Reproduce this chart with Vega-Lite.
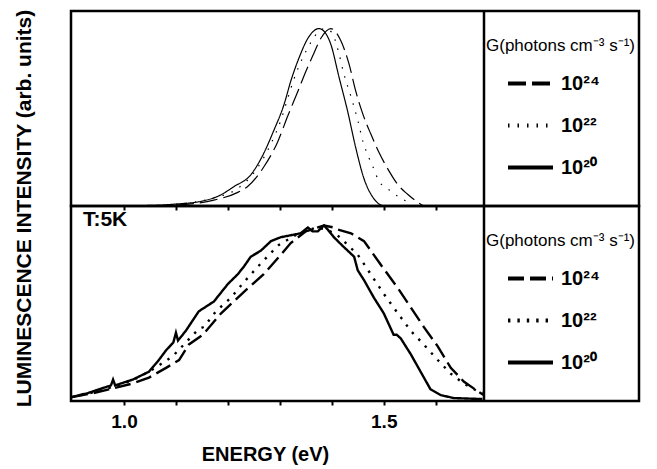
{
  "$schema": "https://vega.github.io/schema/vega-lite/v6.json",
  "padding": {"left": 11, "top": 7, "right": 0, "bottom": 0},
  "background": "white",
  "config": {
    "font": "Liberation Sans",
    "view": {"stroke": "black", "strokeWidth": 2.5},
    "axis": {"grid": false, "domain": false, "tickColor": "black", "labelColor": "black", "titleColor": "black"},
    "legend": {
      "orient": "none", "legendX": 415, "legendY": 27, "padding": 0, "strokeColor": null,
      "titleFontSize": 17, "titleFontWeight": "normal", "titleColor": "black", "titlePadding": 4, "titleLimit": 300,
      "labelFontSize": 20, "labelFontWeight": "bold", "labelColor": "black", "labelOffset": 6,
      "symbolType": "stroke", "symbolSize": 2025, "symbolStrokeWidth": 4, "symbolStrokeColor": "black",
      "symbolOffset": 20, "rowPadding": 7
    }
  },
  "datasets": {
    "edge": [{"E": 1.693}],
    "top": [
      {"G": "10²⁰", "E": 0.95, "I": 0.0}, {"G": "10²⁰", "E": 1.05, "I": 0.003}, {"G": "10²⁰", "E": 1.10, "I": 0.01},
      {"G": "10²⁰", "E": 1.15, "I": 0.025}, {"G": "10²⁰", "E": 1.181, "I": 0.05}, {"G": "10²⁰", "E": 1.212, "I": 0.10},
      {"G": "10²⁰", "E": 1.244, "I": 0.16}, {"G": "10²⁰", "E": 1.269, "I": 0.27}, {"G": "10²⁰", "E": 1.288, "I": 0.385},
      {"G": "10²⁰", "E": 1.308, "I": 0.52}, {"G": "10²⁰", "E": 1.321, "I": 0.64}, {"G": "10²⁰", "E": 1.337, "I": 0.76},
      {"G": "10²⁰", "E": 1.354, "I": 0.86}, {"G": "10²⁰", "E": 1.365, "I": 0.897}, {"G": "10²⁰", "E": 1.375, "I": 0.91},
      {"G": "10²⁰", "E": 1.387, "I": 0.89}, {"G": "10²⁰", "E": 1.398, "I": 0.83}, {"G": "10²⁰", "E": 1.414, "I": 0.66},
      {"G": "10²⁰", "E": 1.431, "I": 0.48}, {"G": "10²⁰", "E": 1.446, "I": 0.30}, {"G": "10²⁰", "E": 1.462, "I": 0.14},
      {"G": "10²⁰", "E": 1.479, "I": 0.045}, {"G": "10²⁰", "E": 1.49, "I": 0.012}, {"G": "10²⁰", "E": 1.50, "I": 0.0},
      {"G": "10²²", "E": 1.10, "I": 0.008}, {"G": "10²²", "E": 1.17, "I": 0.04}, {"G": "10²²", "E": 1.219, "I": 0.09},
      {"G": "10²²", "E": 1.25, "I": 0.17}, {"G": "10²²", "E": 1.283, "I": 0.32}, {"G": "10²²", "E": 1.302, "I": 0.44},
      {"G": "10²²", "E": 1.315, "I": 0.55}, {"G": "10²²", "E": 1.327, "I": 0.65}, {"G": "10²²", "E": 1.344, "I": 0.76},
      {"G": "10²²", "E": 1.36, "I": 0.84}, {"G": "10²²", "E": 1.373, "I": 0.89}, {"G": "10²²", "E": 1.386, "I": 0.91},
      {"G": "10²²", "E": 1.40, "I": 0.89}, {"G": "10²²", "E": 1.413, "I": 0.79}, {"G": "10²²", "E": 1.423, "I": 0.68},
      {"G": "10²²", "E": 1.437, "I": 0.56}, {"G": "10²²", "E": 1.45, "I": 0.44}, {"G": "10²²", "E": 1.46, "I": 0.33},
      {"G": "10²²", "E": 1.471, "I": 0.25}, {"G": "10²²", "E": 1.481, "I": 0.19}, {"G": "10²²", "E": 1.49, "I": 0.13},
      {"G": "10²²", "E": 1.507, "I": 0.09}, {"G": "10²²", "E": 1.527, "I": 0.05}, {"G": "10²²", "E": 1.546, "I": 0.02},
      {"G": "10²²", "E": 1.556, "I": 0.0},
      {"G": "10²⁴", "E": 1.10, "I": 0.005}, {"G": "10²⁴", "E": 1.173, "I": 0.03}, {"G": "10²⁴", "E": 1.219, "I": 0.07},
      {"G": "10²⁴", "E": 1.238, "I": 0.10}, {"G": "10²⁴", "E": 1.269, "I": 0.20}, {"G": "10²⁴", "E": 1.296, "I": 0.33},
      {"G": "10²⁴", "E": 1.315, "I": 0.46}, {"G": "10²⁴", "E": 1.335, "I": 0.59}, {"G": "10²⁴", "E": 1.35, "I": 0.69},
      {"G": "10²⁴", "E": 1.365, "I": 0.78}, {"G": "10²⁴", "E": 1.379, "I": 0.86}, {"G": "10²⁴", "E": 1.398, "I": 0.91},
      {"G": "10²⁴", "E": 1.417, "I": 0.85}, {"G": "10²⁴", "E": 1.433, "I": 0.73}, {"G": "10²⁴", "E": 1.446, "I": 0.59},
      {"G": "10²⁴", "E": 1.46, "I": 0.47}, {"G": "10²⁴", "E": 1.475, "I": 0.37}, {"G": "10²⁴", "E": 1.49, "I": 0.28},
      {"G": "10²⁴", "E": 1.51, "I": 0.18}, {"G": "10²⁴", "E": 1.527, "I": 0.11}, {"G": "10²⁴", "E": 1.546, "I": 0.06},
      {"G": "10²⁴", "E": 1.565, "I": 0.02}, {"G": "10²⁴", "E": 1.577, "I": 0.0}
    ],
    "bottom": [
      {"G": "10²⁰", "E": 0.899, "I": 0.02}, {"G": "10²⁰", "E": 0.93, "I": 0.04}, {"G": "10²⁰", "E": 0.952, "I": 0.06},
      {"G": "10²⁰", "E": 0.975, "I": 0.08}, {"G": "10²⁰", "E": 0.979, "I": 0.11}, {"G": "10²⁰", "E": 0.983, "I": 0.08},
      {"G": "10²⁰", "E": 1.017, "I": 0.11}, {"G": "10²⁰", "E": 1.048, "I": 0.15}, {"G": "10²⁰", "E": 1.067, "I": 0.21},
      {"G": "10²⁰", "E": 1.081, "I": 0.26}, {"G": "10²⁰", "E": 1.095, "I": 0.30}, {"G": "10²⁰", "E": 1.10, "I": 0.35},
      {"G": "10²⁰", "E": 1.104, "I": 0.31}, {"G": "10²⁰", "E": 1.119, "I": 0.36}, {"G": "10²⁰", "E": 1.144, "I": 0.46},
      {"G": "10²⁰", "E": 1.173, "I": 0.51}, {"G": "10²⁰", "E": 1.20, "I": 0.60}, {"G": "10²⁰", "E": 1.219, "I": 0.65},
      {"G": "10²⁰", "E": 1.231, "I": 0.69}, {"G": "10²⁰", "E": 1.244, "I": 0.74}, {"G": "10²⁰", "E": 1.263, "I": 0.77},
      {"G": "10²⁰", "E": 1.283, "I": 0.82}, {"G": "10²⁰", "E": 1.302, "I": 0.84}, {"G": "10²⁰", "E": 1.321, "I": 0.85},
      {"G": "10²⁰", "E": 1.34, "I": 0.86}, {"G": "10²⁰", "E": 1.354, "I": 0.89}, {"G": "10²⁰", "E": 1.363, "I": 0.87},
      {"G": "10²⁰", "E": 1.373, "I": 0.87}, {"G": "10²⁰", "E": 1.385, "I": 0.90}, {"G": "10²⁰", "E": 1.392, "I": 0.88},
      {"G": "10²⁰", "E": 1.404, "I": 0.84}, {"G": "10²⁰", "E": 1.423, "I": 0.79}, {"G": "10²⁰", "E": 1.443, "I": 0.74},
      {"G": "10²⁰", "E": 1.45, "I": 0.67}, {"G": "10²⁰", "E": 1.462, "I": 0.62}, {"G": "10²⁰", "E": 1.481, "I": 0.53},
      {"G": "10²⁰", "E": 1.50, "I": 0.45}, {"G": "10²⁰", "E": 1.519, "I": 0.34}, {"G": "10²⁰", "E": 1.525, "I": 0.34},
      {"G": "10²⁰", "E": 1.533, "I": 0.32}, {"G": "10²⁰", "E": 1.552, "I": 0.24}, {"G": "10²⁰", "E": 1.571, "I": 0.15},
      {"G": "10²⁰", "E": 1.59, "I": 0.06}, {"G": "10²⁰", "E": 1.61, "I": 0.03}, {"G": "10²⁰", "E": 1.635, "I": 0.015},
      {"G": "10²⁰", "E": 1.69, "I": 0.01},
      {"G": "10²²", "E": 0.90, "I": 0.02}, {"G": "10²²", "E": 0.95, "I": 0.05}, {"G": "10²²", "E": 1.0, "I": 0.09},
      {"G": "10²²", "E": 1.027, "I": 0.12}, {"G": "10²²", "E": 1.06, "I": 0.17}, {"G": "10²²", "E": 1.094, "I": 0.23},
      {"G": "10²²", "E": 1.119, "I": 0.30}, {"G": "10²²", "E": 1.144, "I": 0.37}, {"G": "10²²", "E": 1.154, "I": 0.38},
      {"G": "10²²", "E": 1.177, "I": 0.46}, {"G": "10²²", "E": 1.206, "I": 0.53}, {"G": "10²²", "E": 1.231, "I": 0.61},
      {"G": "10²²", "E": 1.258, "I": 0.69}, {"G": "10²²", "E": 1.283, "I": 0.76}, {"G": "10²²", "E": 1.298, "I": 0.80},
      {"G": "10²²", "E": 1.33, "I": 0.85}, {"G": "10²²", "E": 1.37, "I": 0.89}, {"G": "10²²", "E": 1.39, "I": 0.88},
      {"G": "10²²", "E": 1.411, "I": 0.85}, {"G": "10²²", "E": 1.423, "I": 0.82}, {"G": "10²²", "E": 1.45, "I": 0.75},
      {"G": "10²²", "E": 1.475, "I": 0.65}, {"G": "10²²", "E": 1.50, "I": 0.55}, {"G": "10²²", "E": 1.527, "I": 0.45},
      {"G": "10²²", "E": 1.552, "I": 0.36}, {"G": "10²²", "E": 1.577, "I": 0.29}, {"G": "10²²", "E": 1.604, "I": 0.21},
      {"G": "10²²", "E": 1.629, "I": 0.14}, {"G": "10²²", "E": 1.654, "I": 0.09}, {"G": "10²²", "E": 1.681, "I": 0.05},
      {"G": "10²²", "E": 1.693, "I": 0.04},
      {"G": "10²⁴", "E": 0.90, "I": 0.02}, {"G": "10²⁴", "E": 0.94, "I": 0.04}, {"G": "10²⁴", "E": 0.971, "I": 0.06},
      {"G": "10²⁴", "E": 1.017, "I": 0.09}, {"G": "10²⁴", "E": 1.048, "I": 0.12}, {"G": "10²⁴", "E": 1.081, "I": 0.17},
      {"G": "10²⁴", "E": 1.106, "I": 0.21}, {"G": "10²⁴", "E": 1.125, "I": 0.29}, {"G": "10²⁴", "E": 1.152, "I": 0.34},
      {"G": "10²⁴", "E": 1.187, "I": 0.45}, {"G": "10²⁴", "E": 1.231, "I": 0.56}, {"G": "10²⁴", "E": 1.269, "I": 0.65},
      {"G": "10²⁴", "E": 1.302, "I": 0.75}, {"G": "10²⁴", "E": 1.321, "I": 0.81}, {"G": "10²⁴", "E": 1.35, "I": 0.87},
      {"G": "10²⁴", "E": 1.385, "I": 0.90}, {"G": "10²⁴", "E": 1.404, "I": 0.89}, {"G": "10²⁴", "E": 1.411, "I": 0.88},
      {"G": "10²⁴", "E": 1.437, "I": 0.86}, {"G": "10²⁴", "E": 1.462, "I": 0.82}, {"G": "10²⁴", "E": 1.494, "I": 0.70},
      {"G": "10²⁴", "E": 1.527, "I": 0.58}, {"G": "10²⁴", "E": 1.552, "I": 0.48}, {"G": "10²⁴", "E": 1.577, "I": 0.38},
      {"G": "10²⁴", "E": 1.604, "I": 0.28}, {"G": "10²⁴", "E": 1.629, "I": 0.17}, {"G": "10²⁴", "E": 1.654, "I": 0.10},
      {"G": "10²⁴", "E": 1.681, "I": 0.05}, {"G": "10²⁴", "E": 1.693, "I": 0.03}
    ]
  },
  "spacing": 0,
  "bounds": "flush",
  "resolve": {
    "scale": {"x": "independent", "y": "independent", "strokeDash": "independent"},
    "legend": {"strokeDash": "independent"}
  },
  "vconcat": [
    {
      "width": 568, "height": 195,
      "layer": [
        {
          "data": {"name": "top"},
          "mark": {"type": "line", "color": "black", "strokeWidth": 1.2, "interpolate": "monotone", "clip": true},
          "encoding": {
            "x": {"field": "E", "type": "quantitative",
              "scale": {"domain": [0.898, 1.693], "range": [0, 413], "nice": false, "zero": false},
              "axis": {"values": [1, 1.1, 1.2, 1.3, 1.4, 1.5, 1.6], "labels": false, "title": null, "tickSize": 4, "tickWidth": 2}},
            "y": {"field": "I", "type": "quantitative",
              "scale": {"domain": [0, 1], "nice": false, "zero": true},
              "axis": {"ticks": false, "labels": false, "title": "LUMINESCENCE INTENSITY (arb. units)",
                "titleFontSize": 21, "titleFontWeight": "bold", "titlePadding": 37, "titleY": 197}},
            "strokeDash": {"field": "G", "type": "nominal",
              "scale": {"domain": ["10²⁴", "10²²", "10²⁰"], "range": [[18, 6], [1.5, 8], [1, 0]]},
              "legend": {"title": "G(photons  cm⁻³ s⁻¹)"}}
          }
        },
        {
          "data": {"name": "edge"},
          "mark": {"type": "rule", "color": "black", "strokeWidth": 2.5},
          "encoding": {"x": {"field": "E", "type": "quantitative"}}
        }
      ]
    },
    {
      "width": 568, "height": 195,
      "layer": [
        {
          "data": {"name": "bottom"},
          "mark": {"type": "line", "color": "black", "strokeWidth": 2.4, "clip": true},
          "encoding": {
            "x": {"field": "E", "type": "quantitative",
              "scale": {"domain": [0.898, 1.693], "range": [0, 413], "nice": false, "zero": false},
              "axis": {"values": [1, 1.1, 1.2, 1.3, 1.4, 1.5, 1.6], "tickSize": 4, "tickWidth": 2,
                "labelExpr": "datum.value == 1 || datum.value == 1.5 ? format(datum.value, '.1f') : ''",
                "labelFontSize": 19, "labelFontWeight": "bold", "labelPadding": 7, "labelOverlap": false,
                "title": "ENERGY (eV)", "titleFontSize": 20, "titleFontWeight": "bold", "titlePadding": 13, "titleX": 194}},
            "y": {"field": "I", "type": "quantitative",
              "scale": {"domain": [0, 1], "nice": false, "zero": true},
              "axis": {"ticks": false, "labels": false, "title": null}},
            "strokeDash": {"field": "G", "type": "nominal",
              "scale": {"domain": ["10²⁴", "10²²", "10²⁰"], "range": [[16, 6], [2.4, 7], [1, 0]]},
              "legend": {"title": "G(photons  cm⁻³ s⁻¹)"}}
          }
        },
        {
          "data": {"values": [{"label": "T:5K"}]},
          "mark": {"type": "text", "font": "Liberation Sans", "fontSize": 21, "fontWeight": "bold", "align": "left", "baseline": "alphabetic", "color": "black"},
          "encoding": {
            "x": {"datum": 0.921, "type": "quantitative"},
            "y": {"datum": 0.9, "type": "quantitative"},
            "text": {"field": "label"}
          }
        },
        {
          "data": {"name": "edge"},
          "mark": {"type": "rule", "color": "black", "strokeWidth": 2.5},
          "encoding": {"x": {"field": "E", "type": "quantitative"}}
        }
      ]
    }
  ]
}
